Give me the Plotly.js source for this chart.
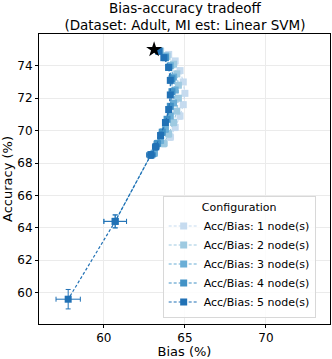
<!DOCTYPE html>
<html>
<head>
<meta charset="utf-8">
<script src="https://cdn.plot.ly/plotly-3.0.1.min.js"></script>
<style>
  html, body { margin: 0; padding: 0; background: #fff; }
  #graph { width: 332px; height: 359px; }
</style>
</head>
<body>
<div id="graph"></div>
<script>
// values (bias %, accuracy %)
var names = ["Acc/Bias: 1 node(s)", "Acc/Bias: 2 node(s)", "Acc/Bias: 3 node(s)",
             "Acc/Bias: 4 node(s)", "Acc/Bias: 5 node(s)"];
var colors = ["#c6dbef", "#9ecae1", "#6baed6", "#4292c6", "#2171b5"];

var bias1 = [63.5, 64.0, 64.4, 64.7, 64.9, 65.0, 64.9, 64.7, 64.4, 64.1];
var acc1  = [74.9, 74.7, 74.3, 73.7, 73.0, 72.3, 71.6, 70.9, 70.2, 69.6];
var bias2 = [63.5, 63.9, 64.3, 64.5, 64.6, 64.6, 64.5, 64.3, 64.0, 63.7];
var acc2  = [74.9, 74.6, 74.1, 73.5, 72.8, 72.0, 71.2, 70.5, 69.8, 69.2];
var bias3 = [63.4, 63.8, 64.1, 64.3, 64.4, 64.3, 64.1, 63.8, 63.5, 63.1];
var acc3  = [74.9, 74.6, 74.0, 73.3, 72.5, 71.7, 70.9, 70.1, 69.4, 68.6];
var bias4 = [63.4, 63.8, 64.0, 64.2, 64.2, 64.1, 63.9, 63.6, 63.3, 62.9, 60.7];
var acc4  = [74.9, 74.5, 73.9, 73.2, 72.4, 71.5, 70.7, 69.9, 69.2, 68.5, 64.4];
var bias5 = [63.4, 63.7, 64.0, 64.1, 64.1, 64.0, 63.8, 63.5, 63.2, 62.9, 60.7, 57.8];
var acc5  = [74.9, 74.5, 73.9, 73.1, 72.2, 71.3, 70.5, 69.7, 69.0, 68.5, 64.4, 59.6];

// error bar half-widths
var biasErr1 = [0.1, 0.1, 0.1, 0.1, 0.1, 0.1, 0.1, 0.1, 0.15, 0.2];
var accErr1  = [0.1, 0.1, 0.1, 0.15, 0.15, 0.15, 0.15, 0.2, 0.2, 0.2];
var biasErr2 = biasErr1, accErr2 = accErr1, biasErr3 = biasErr1, accErr3 = accErr1;
var biasErr4 = [0.1, 0.1, 0.1, 0.1, 0.1, 0.1, 0.1, 0.15, 0.2, 0.25, 0.7];
var accErr4  = [0.1, 0.1, 0.1, 0.15, 0.15, 0.15, 0.15, 0.2, 0.2, 0.2, 0.4];
var biasErr5 = [0.1, 0.1, 0.1, 0.1, 0.1, 0.1, 0.1, 0.15, 0.2, 0.25, 0.7, 0.75];
var accErr5  = [0.1, 0.1, 0.1, 0.15, 0.15, 0.15, 0.15, 0.2, 0.2, 0.2, 0.4, 0.6];

var baseBias = [63.1];
var baseAcc = [75.0];

var allBias = [bias1, bias2, bias3, bias4, bias5];
var allAcc = [acc1, acc2, acc3, acc4, acc5];
var allBiasErr = [biasErr1, biasErr2, biasErr3, biasErr4, biasErr5];
var allAccErr = [accErr1, accErr2, accErr3, accErr4, accErr5];

var traces = [];
for (var i = 0; i < names.length; i++) {
    traces.push({
        x: allBias[i],
        y: allAcc[i],
        type: 'scatter',
        mode: 'lines+markers',
        name: names[i],
        line: { color: colors[i], width: 1.2, dash: '3px,2px' },
        marker: { color: colors[i], size: 7, symbol: 'square' },
        error_x: { type: 'data', array: allBiasErr[i], color: colors[i], thickness: 1, width: 2.5 },
        error_y: { type: 'data', array: allAccErr[i], color: colors[i], thickness: 1, width: 2.5 }
    });
}
traces.push({
    x: baseBias,
    y: baseAcc,
    type: 'scatter',
    mode: 'markers',
    marker: { color: 'black', size: 12, symbol: 'star' },
    showlegend: false
});

var fam = 'DejaVu Sans, sans-serif';

var layout = {
    width: 332,
    height: 359,
    margin: { l: 39, r: 2, t: 34, b: 35 },
    paper_bgcolor: 'white',
    plot_bgcolor: 'white',
    font: { family: fam, size: 12, color: '#000' },
    title: {
        text: 'Bias-accuracy tradeoff<br>(Dataset: Adult, MI est: Linear SVM)',
        font: { family: fam, size: 13.5, color: '#000' },
        x: 0.557, xanchor: 'center', y: 0.964, yanchor: 'top'
    },
    xaxis: {
        title: { text: 'Bias (%)', font: { family: fam, size: 13 }, standoff: 3 },
        range: [56.0, 73.95],
        tickvals: [60, 65, 70],
        tickfont: { family: fam, size: 12 },
        ticks: 'outside', ticklen: 3, tickcolor: '#000',
        showgrid: true, gridcolor: '#ebebeb',
        showline: true, linecolor: '#000', linewidth: 1, mirror: true,
        zeroline: false
    },
    yaxis: {
        title: { text: 'Accuracy (%)', font: { family: fam, size: 13 }, standoff: 3 },
        range: [58.07, 75.96],
        tickvals: [60, 62, 64, 66, 68, 70, 72, 74],
        tickfont: { family: fam, size: 12 },
        ticks: 'outside', ticklen: 3, tickcolor: '#000',
        showgrid: true, gridcolor: '#ebebeb',
        showline: true, linecolor: '#000', linewidth: 1, mirror: true,
        zeroline: false
    },
    legend: {
        title: { text: 'Configuration', side: 'top center', font: { family: fam, size: 11 } },
        font: { family: fam, size: 11 },
        x: 0.425, xanchor: 'left',
        y: 0.02, yanchor: 'bottom',
        bgcolor: 'rgba(255,255,255,0.85)',
        bordercolor: '#d8d8d8', borderwidth: 1,
        tracegroupgap: 0,
        itemwidth: 30
    },
    showlegend: true
};

Plotly.newPlot('graph', traces, layout, { displayModeBar: false, staticPlot: true });
</script>
</body>
</html>
